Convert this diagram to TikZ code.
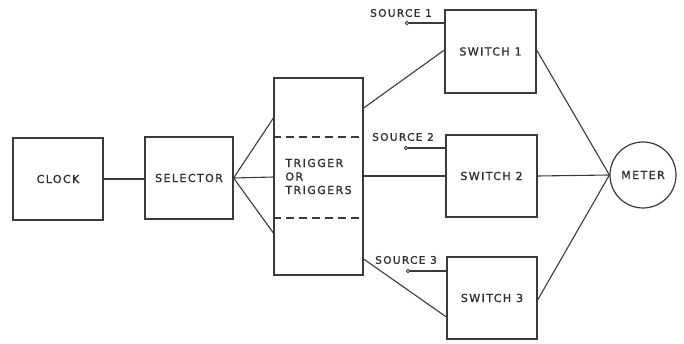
\documentclass[tikz,border=0pt]{standalone}
\usepackage{fontspec}
\newfontfamily\labfont[LetterSpace=13,FakeBold=1.2]{DejaVu Sans}
\definecolor{ink}{HTML}{3A3A3A}
\definecolor{txt}{HTML}{2E2E2E}
\tikzset{
  blk/.style={draw=ink, line width=1.2pt, inner sep=0pt, text=txt,
    font=\labfont\fontsize{11}{13.5}\selectfont},
  wire/.style={draw=ink, line width=1.1pt},
  srclab/.style={text=txt, inner sep=0pt, font=\labfont\fontsize{10.5}{13}\selectfont},
  term/.style={circle, draw=ink, line width=0.8pt, fill=white, inner sep=0pt, minimum size=3.5pt},
  sep/.style={draw=ink, line width=1.1pt, dash pattern=on 8pt off 5pt}
}
\begin{document}
\begin{tikzpicture}[x=1pt,y=-1pt]
\useasboundingbox (0,0) rectangle (684,344);
% blocks
\node[blk, minimum width=90pt, minimum height=82pt] (clock) at (58,179) {CLOCK};
\node[blk, minimum width=88pt, minimum height=82pt] (sel) at (189,178) {SELECTOR};
\node[blk, minimum width=89pt, minimum height=197pt, align=left] (trig) at (318.5,176.5) {TRIGGER\\OR\\TRIGGERS};
\node[blk, minimum width=91pt, minimum height=83pt] (sw1) at (490.5,51.5) {SWITCH 1};
\node[blk, minimum width=91pt, minimum height=82pt] (sw2) at (491.5,176) {SWITCH 2};
\node[blk, minimum width=90pt, minimum height=82pt] (sw3) at (492,298) {SWITCH 3};
\node[blk, circle, minimum size=66pt] (meter) at (643,175) {METER};
% dashed separators inside trigger block
\draw[sep] (trig.west |- 0,137) -- (trig.east |- 0,137);
\draw[sep] (trig.west |- 0,218) -- (trig.east |- 0,218);
% clock to selector
\draw[wire] (clock.east) -- (sel.west |- clock.east);
% selector to trigger
\draw[wire] (sel.east) -- (trig.west |- 0,118);
\draw[wire] (sel.east) -- (trig.west |- 0,177);
\draw[wire] (sel.east) -- (trig.west |- 0,233);
% trigger to switches
\draw[wire] (trig.east |- 0,108) -- (sw1.west |- 0,50);
\draw[wire] (trig.east |- 0,176) -- (sw2.west |- 0,176);
\draw[wire] (trig.east |- 0,259) -- (sw3.west |- 0,317);
% switches to meter
\draw[wire] (sw1.east |- 0,50) -- (meter.west);
\draw[wire] (sw2.east |- 0,176) -- (meter.west);
\draw[wire] (sw3.east |- 0,300) -- (meter.west);
% sources
\node[term] (s1) at (407,23) {};
\node[term] (s2) at (406,148) {};
\node[term] (s3) at (408,271) {};
\draw[wire] (s1) -- (sw1.west |- s1);
\draw[wire] (s2) -- (sw2.west |- s2);
\draw[wire] (s3) -- (sw3.west |- s3);
\node[srclab] (l1) at (401,13) {SOURCE 1};
\node[srclab] (l2) at (403,137) {SOURCE 2};
\node[srclab] (l3) at (406,260) {SOURCE 3};
\end{tikzpicture}
\end{document}
